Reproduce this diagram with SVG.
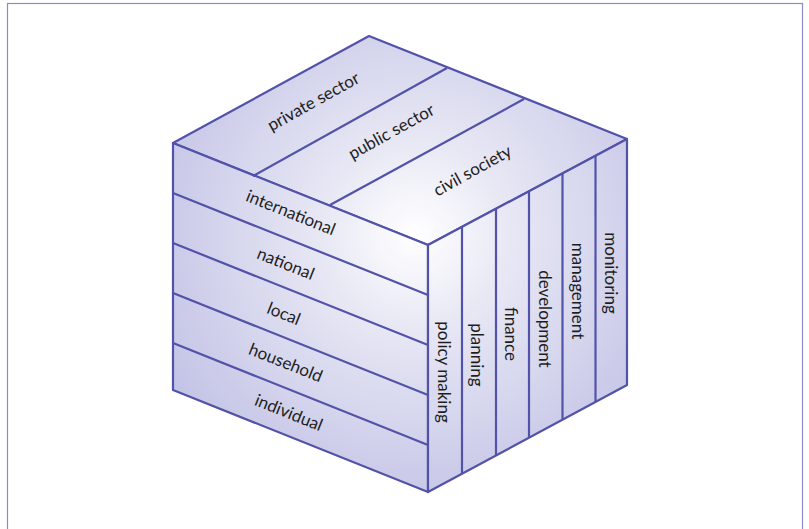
<svg xmlns="http://www.w3.org/2000/svg" width="809" height="529" viewBox="0 0 809 529">
<defs>
<radialGradient id="g" gradientUnits="userSpaceOnUse" cx="415" cy="235" r="290">
<stop offset="0" stop-color="#ffffff"/>
<stop offset="0.35" stop-color="#e6e6f4"/>
<stop offset="1" stop-color="#c2c2e6"/>
</radialGradient>
<style>
.face{fill:url(#g);stroke:#5252a8;stroke-width:2.2;stroke-linejoin:round}
.ln{stroke:#5252a8;stroke-width:2.2;fill:none}
.t{font-family:Lato,"Open Sans",sans-serif;font-size:17px;fill:#1e1e1e;text-anchor:middle;dominant-baseline:central}
</style>
</defs>
<rect x="7.5" y="3.5" width="795" height="540" fill="#fff" stroke="#8a8ac4" stroke-width="1.2"/>
<g id="top-face">
<polygon class="face" points="369,36 627,139 428,245 173,143"/>
</g>
<g id="left-face">
<polygon class="face" points="173,143 428,245 428,492 173,390"/>
</g>
<g id="right-face">
<polygon class="face" points="428,245 627,139 627,385 428,492"/>
</g>
<g id="connectors">
<line class="ln" x1="447" y1="68" x2="253" y2="176"/>
<line class="ln" x1="524" y1="99" x2="330" y2="205"/>
<line class="ln" x1="173" y1="193" x2="428" y2="295"/>
<line class="ln" x1="173" y1="243" x2="428" y2="345"/>
<line class="ln" x1="173" y1="293" x2="428" y2="395"/>
<line class="ln" x1="173" y1="343" x2="428" y2="445"/>
<line class="ln" x1="462" y1="227" x2="462" y2="474"/>
<line class="ln" x1="496" y1="209" x2="496" y2="456"/>
<line class="ln" x1="529" y1="191" x2="529" y2="438"/>
<line class="ln" x1="562.5" y1="174" x2="562.5" y2="420"/>
<line class="ln" x1="595.5" y1="156" x2="595.5" y2="402"/>
</g>
<g id="private-sector"><text class="t" transform="translate(313,101) rotate(-29.1)">private sector</text></g>
<g id="public-sector"><text class="t" transform="translate(391,131) rotate(-29.1)">public sector</text></g>
<g id="civil-society"><text class="t" transform="translate(472,170) rotate(-29.1)">civil society</text></g>
<g id="international"><text class="t" transform="translate(291,212) rotate(21.8)">international</text></g>
<g id="national"><text class="t" transform="translate(286,263) rotate(21.8)">national</text></g>
<g id="local"><text class="t" transform="translate(284,313) rotate(21.8)">local</text></g>
<g id="household"><text class="t" transform="translate(286,362) rotate(21.8)">household</text></g>
<g id="individual"><text class="t" transform="translate(289,412) rotate(21.8)">individual</text></g>
<g id="policy-making"><text class="t" transform="translate(444,372) rotate(90)">policy making</text></g>
<g id="planning"><text class="t" transform="translate(477,355) rotate(90)">planning</text></g>
<g id="finance"><text class="t" transform="translate(511,334) rotate(90)">finance</text></g>
<g id="development"><text class="t" transform="translate(545,319) rotate(90)">development</text></g>
<g id="management"><text class="t" transform="translate(578,291) rotate(90)">management</text></g>
<g id="monitoring"><text class="t" transform="translate(611,273) rotate(90)">monitoring</text></g>
</svg>
